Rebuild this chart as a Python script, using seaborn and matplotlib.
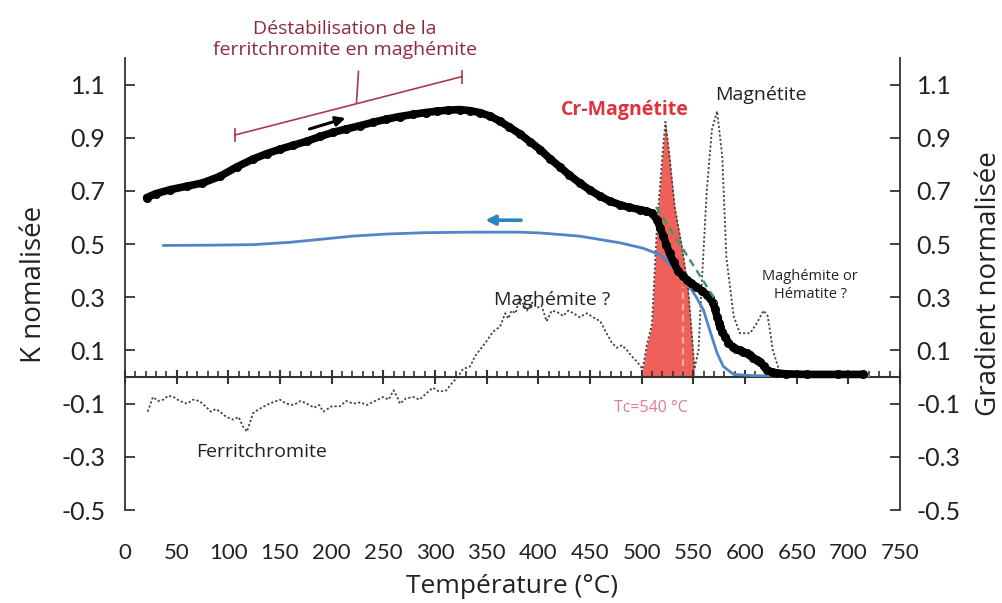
import matplotlib
matplotlib.use("Agg")
import matplotlib.pyplot as plt
import seaborn as sns
import numpy as np

# heating curve (K normalisee), black dots
heat_t = [21, 30, 44, 60, 75, 92, 108, 124, 137, 150, 163, 176, 189, 201, 214, 227, 240,
          253, 266, 279, 291, 302, 313, 324, 334, 344, 353, 363, 372, 382, 392, 402,
          411, 421, 430, 440, 450, 460, 469, 479, 488, 498, 504, 510, 515, 518, 521,
          524, 527, 531, 535, 540, 544, 548, 553, 558, 563, 566, 569, 571, 573, 575,
          576, 578, 581, 584, 588, 591, 595, 598, 602, 605, 608, 612, 615, 618, 621,
          626, 631, 640, 660, 690, 714]
heat_k = [0.675, 0.69, 0.705, 0.718, 0.73, 0.755, 0.79, 0.82, 0.84, 0.857, 0.872, 0.887,
          0.905, 0.92, 0.933, 0.945, 0.958, 0.97, 0.98, 0.988, 0.995, 1.0, 1.004, 1.006,
          1.002, 0.994, 0.982, 0.962, 0.94, 0.915, 0.885, 0.855, 0.822, 0.79, 0.76, 0.73,
          0.703, 0.68, 0.662, 0.648, 0.638, 0.63, 0.625, 0.617, 0.59, 0.56, 0.53, 0.497,
          0.465, 0.432, 0.40, 0.38, 0.365, 0.352, 0.34, 0.325, 0.31, 0.298, 0.28, 0.255,
          0.226, 0.205, 0.19, 0.17, 0.15, 0.13, 0.113, 0.105, 0.10, 0.095, 0.09, 0.082,
          0.072, 0.064, 0.056, 0.042, 0.026, 0.02, 0.015, 0.012, 0.01, 0.01, 0.01]

# cooling curve, blue
cool_t = [37, 80, 124, 160, 189, 220, 253, 290, 334, 382, 402, 440, 479, 501, 518,
          530, 544, 553, 560, 566, 573, 579, 589, 610, 650, 700, 720]
cool_k = [0.495, 0.496, 0.498, 0.507, 0.518, 0.53, 0.538, 0.543, 0.545, 0.545, 0.542,
          0.53, 0.505, 0.485, 0.46, 0.415, 0.355, 0.30, 0.25, 0.175, 0.09, 0.04, 0.01,
          0.005, 0.005, 0.005, 0.005]

# normalised gradient (dotted)
grad_t = [22, 27, 32, 37, 42, 47, 53, 60, 66, 72, 78, 83, 88, 92, 98, 105, 110, 114,
          118, 121, 124, 130, 137, 143, 150, 156, 163, 170, 176, 183, 188, 192, 200,
          208, 214, 221, 228, 234, 242, 250, 255, 260, 264, 266, 272, 279, 285, 292,
          298, 304, 311, 317, 322, 327, 334, 339, 343, 349, 356, 363, 368, 371, 374,
          378, 382, 386, 389, 394, 399, 403, 408, 413, 418, 424, 429, 434, 440, 447,
          453, 460, 464, 466, 471, 476, 481, 486, 490, 495, 501, 505, 510, 515, 520,
          523, 527, 532, 539, 545, 549, 551, 555, 558, 563, 568, 573, 578, 582, 589,
          595, 605, 611, 618, 622, 627, 634, 640, 650]
grad_v = [-0.13, -0.075, -0.09, -0.085, -0.07, -0.075, -0.09, -0.10, -0.085, -0.09,
          -0.11, -0.13, -0.12, -0.13, -0.15, -0.16, -0.15, -0.185, -0.205, -0.17,
          -0.135, -0.12, -0.105, -0.095, -0.085, -0.10, -0.105, -0.09, -0.10, -0.115,
          -0.105, -0.13, -0.11, -0.11, -0.09, -0.10, -0.095, -0.105, -0.09, -0.075,
          -0.085, -0.05, -0.08, -0.10, -0.08, -0.075, -0.085, -0.06, -0.04, -0.055,
          -0.05, -0.02, 0.0, 0.03, 0.04, 0.08, 0.10, 0.13, 0.17, 0.19, 0.24, 0.22,
          0.25, 0.24, 0.30, 0.27, 0.25, 0.28, 0.26, 0.27, 0.21, 0.25, 0.245, 0.23,
          0.25, 0.24, 0.225, 0.24, 0.225, 0.21, 0.18, 0.165, 0.13, 0.11, 0.12, 0.10,
          0.08, 0.06, 0.03, 0.12, 0.20, 0.58, 0.83, 0.96, 0.83, 0.64, 0.49, 0.33,
          0.14, 0.03, 0.10, 0.34, 0.70, 0.93, 1.0, 0.83, 0.45, 0.23, 0.165, 0.165,
          0.20, 0.25, 0.23, 0.10, 0.015, 0.005, 0.0]

cr_range = (501, 551)
tangent_t = [514, 573]
tangent_k = [0.64, 0.28]
tc_t = [540, 540]
tc_k = [0.0, 0.34]

yticks = [-0.5, -0.3, -0.1, 0.1, 0.3, 0.5, 0.7, 0.9, 1.1]
xticks = list(range(0, 751, 50))

sns.set_theme(style="ticks")
plt.rcParams["font.family"] = ["Open Sans", "DejaVu Sans"]

fig = plt.figure(figsize=(10.03, 6.03), dpi=100)
ax = fig.add_axes([0.1246, 0.1542, 0.7727, 0.7496])
ax2 = ax.twinx()

# gradient on the right axis, kept behind the K curves
gt = np.array(grad_t)
gv = np.array(grad_v)
in_cr = (gt >= cr_range[0]) & (gt <= cr_range[1])
ax2.fill_between(gt, 0, gv, where=in_cr, color="#F0605A", lw=0, zorder=1)
sns.lineplot(x=grad_t, y=grad_v, ax=ax2, color="#444444", lw=1.3,
             linestyle=(0, (1.2, 1.2)), zorder=2)
ax2.plot(tc_t, tc_k, color="#F3B08C", lw=1.6, linestyle=(0, (3, 2)), zorder=3)

ax.set_zorder(ax2.get_zorder() + 1)
ax.patch.set_visible(False)

sns.lineplot(x=cool_t, y=cool_k, ax=ax, color="#4F86C6", lw=2.0, zorder=3)
sns.lineplot(x=heat_t, y=heat_k, ax=ax, color="black", lw=5.5, marker="o",
             markersize=6.5, markeredgewidth=0, zorder=4)
ax.plot(tangent_t, tangent_k, color="#3E9B5E", lw=1.8, linestyle=(0, (3, 2)), zorder=5)

for a in (ax, ax2):
    a.set_xlim(0, 750)
    a.set_ylim(-0.5, 1.2)
    a.set_yticks(yticks)
    a.set_yticklabels([f"{v:.1f}" for v in yticks], family="Lato", fontsize=18, color="#222222")
    a.tick_params(axis="y", direction="in", length=7, width=1.3, color="#333333")

for s in ["top", "right"]:
    ax.spines[s].set_visible(False)
for s in ["top", "left", "bottom"]:
    ax2.spines[s].set_visible(False)
ax2.spines["right"].set_color("#333333")
ax2.spines["right"].set_linewidth(1.3)
ax.spines["left"].set_color("#333333")
ax.spines["left"].set_linewidth(1.3)
ax.tick_params(axis="y", pad=14)
ax2.tick_params(axis="y", pad=12)

# axis line at zero with major/minor ticks
ax.spines["bottom"].set_position(("data", 0))
ax.spines["bottom"].set_color("#333333")
ax.spines["bottom"].set_linewidth(1.5)
ax.set_xticks(xticks)
ax.set_xticks(list(range(0, 751, 10)), minor=True)
ax.tick_params(axis="x", which="major", direction="inout", length=10, width=1.5,
               color="#333333", labelbottom=False)
ax.tick_params(axis="x", which="minor", direction="in", length=4, width=1.2,
               color="#333333", bottom=True)

sec = ax.secondary_xaxis("bottom")
sec.set_xticks(xticks)
sec.set_xticklabels([str(v) for v in xticks], family="Lato", fontsize=16, color="#222222")
sec.tick_params(length=0, pad=24)
sec.spines["bottom"].set_visible(False)
sec.set_xlabel("Température (°C)", fontsize=19, color="#222222", labelpad=8)

ax.set_ylabel("K nomalisée", fontsize=20, color="#222222", labelpad=10)
ax2.set_ylabel("Gradient normalisée", fontsize=20, color="#222222", labelpad=10)
ax.set_xlabel("")

# annotations
dark_red = "#8E2B3B"
ax.text(213, 1.27, "Déstabilisation de la\nferritchromite en maghémite", ha="center",
        va="center", fontsize=14, color=dark_red, linespacing=1.25, clip_on=False)
ax.plot([106, 326], [0.91, 1.13], color="#A83A4A", lw=1.2, marker="|", markersize=10,
        markeredgewidth=1.2, clip_on=False)
ax.plot([224, 226], [1.03, 1.15], color="#A83A4A", lw=1.2, clip_on=False)
ax.annotate("", xy=(216, 0.977), xytext=(176, 0.93),
            arrowprops=dict(arrowstyle="-|>", color="black", lw=2.2, mutation_scale=14))
ax.annotate("", xy=(346, 0.59), xytext=(386, 0.59),
            arrowprops=dict(arrowstyle="-|>", color="#2E86C1", lw=2.6, mutation_scale=14))

ax.text(484, 1.005, "Cr-Magnétite", ha="center", va="center", fontsize=14,
        fontweight="bold", color="#E0313F")
ax.text(615, 1.06, "Magnétite", ha="center", va="center", fontsize=14, color="#222222")
ax.text(413, 0.29, "Maghémite ?", ha="center", va="center", fontsize=14, color="#222222")
ax.text(663, 0.345, "Maghémite or\nHématite ?", ha="center", va="center", fontsize=10.5,
        color="#222222", linespacing=1.3)
ax.text(132, -0.283, "Ferritchromite", ha="center", va="center", fontsize=14,
        color="#222222")
ax.text(509, -0.117, "Tc=540 °C", ha="center", va="center", fontsize=11.5,
        color="#E27A98")

fig.savefig("out.png", dpi=100)
